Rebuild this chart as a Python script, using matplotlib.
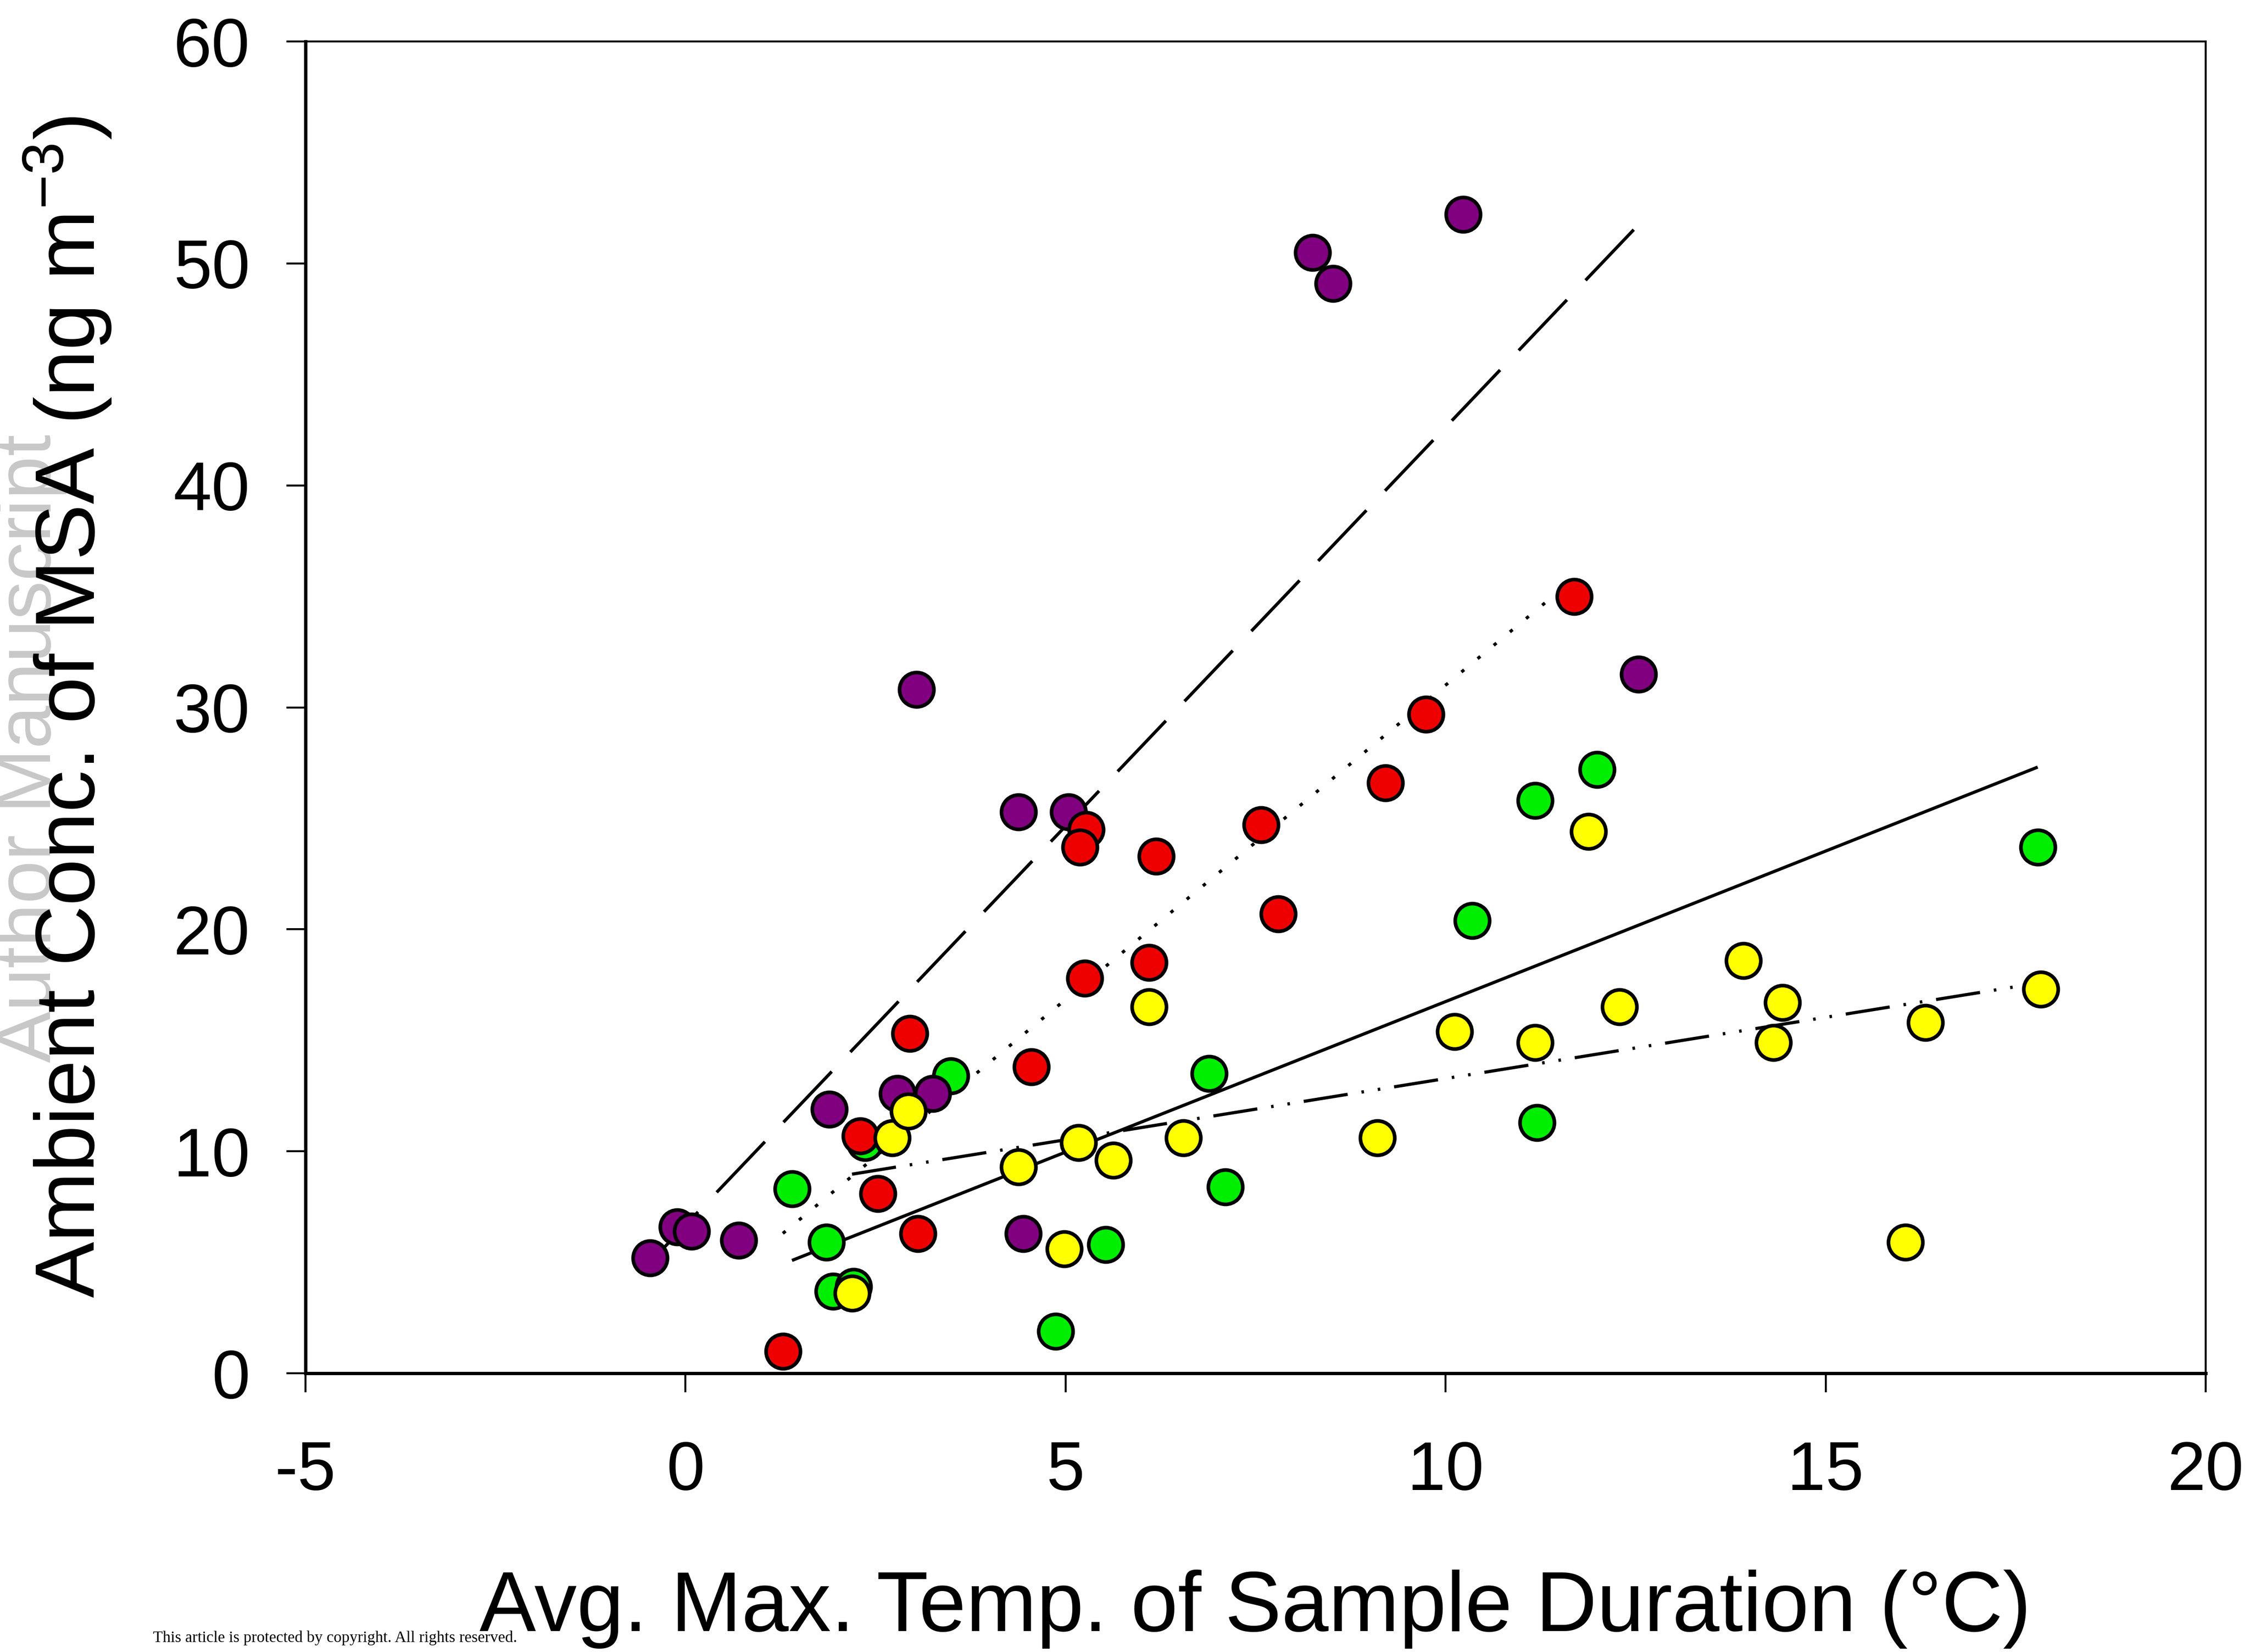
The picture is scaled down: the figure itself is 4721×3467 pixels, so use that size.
import numpy as np
import matplotlib
matplotlib.use("Agg")
from matplotlib import pyplot as plt

plt.rcParams['font.family'] = ['Liberation Sans', 'DejaVu Sans']
plt.rcParams['mathtext.fontset'] = 'custom'
plt.rcParams['mathtext.rm'] = 'Liberation Sans'
plt.rcParams['mathtext.it'] = 'Liberation Sans'
plt.rcParams['axes.unicode_minus'] = False

# data: x = avg max temp (C), y = MSA (ng m-3)
purple_x = [-0.47, -0.11, 0.08, 0.70, 1.89, 3.04, 2.79, 3.25, 4.38, 5.04, 4.44, 8.25, 8.52, 10.23, 12.54]
purple_y = [5.2, 6.6, 6.4, 6.0, 11.9, 30.8, 12.6, 12.6, 25.3, 25.3, 6.3, 50.5, 49.1, 52.2, 31.5]

red_x = [1.28, 2.30, 2.53, 2.95, 3.06, 4.55, 5.25, 5.27, 5.19, 6.10, 6.19, 7.57, 7.80, 9.21, 9.74, 11.69]
red_y = [1.0, 10.7, 8.1, 15.3, 6.3, 13.8, 17.8, 24.5, 23.7, 18.5, 23.3, 24.7, 20.7, 26.6, 29.7, 35.0]

green_x = [1.40, 1.85, 1.94, 2.21, 2.36, 3.49, 4.87, 5.53, 6.89, 7.10, 10.35, 11.18, 11.20, 11.99, 17.79]
green_y = [8.3, 5.9, 3.7, 3.9, 10.4, 13.4, 1.9, 5.8, 13.5, 8.4, 20.4, 25.8, 11.3, 27.2, 23.7]

yellow_x = [2.19, 2.72, 2.93, 4.38, 4.98, 5.17, 5.63, 6.10, 6.55, 9.10, 10.12, 11.18, 11.88, 12.29,
            13.92, 14.31, 14.43, 16.05, 16.31, 17.83]
yellow_y = [3.6, 10.6, 11.8, 9.3, 5.6, 10.4, 9.6, 16.5, 10.6, 10.6, 15.4, 14.9, 24.4, 16.5,
            18.6, 14.9, 16.7, 5.9, 15.8, 17.3]

fig = plt.figure(figsize=(47.21, 34.67), dpi=100)
ax = fig.add_axes([0.1358, 0.1687, 0.9803 - 0.1358, 0.9749 - 0.1687])

lw = 4.8
groups = [
    (green_x, green_y, '#00ee00', None),
    (purple_x, purple_y, '#800080', (22, 8.5)),
    (red_x, red_y, '#ee0000', (1.1, 5.5)),
    (yellow_x, yellow_y, '#ffff00', (14, 4.4, 0.8, 4.4, 0.8, 4.4)),
]

# regression lines over each group's x range
for gx, gy, col, dash in groups:
    gx = np.array(gx)
    slope, icpt = np.polyfit(gx, gy, 1)
    xs = np.array([gx.min(), gx.max()])
    line, = ax.plot(xs, slope * xs + icpt, color='black', lw=lw, zorder=2,
                    solid_capstyle='butt', dash_capstyle='butt')
    if dash is not None:
        line.set_dashes(dash)

for gx, gy, col, dash in groups:
    ax.scatter(gx, gy, s=2700, c=col, edgecolors='black', linewidths=5.5, zorder=3)

ax.set_xlim(-5, 20)
ax.set_ylim(0, 60)
ax.set_xticks([-5, 0, 5, 10, 15, 20])
ax.set_yticks([0, 10, 20, 30, 40, 50, 60])
ax.tick_params(axis='both', direction='out', length=29, width=3, labelsize=104,
               top=False, right=False)
ax.tick_params(axis='x', pad=72)
ax.tick_params(axis='y', pad=55)

for side in ['left', 'bottom']:
    ax.spines[side].set_linewidth(5)
for side in ['top', 'right']:
    ax.spines[side].set_linewidth(3)

fig.text(0.0135, 0.547, 'Author Manuscript', rotation=90, ha='center', va='center',
         fontsize=117, color='#c8c8c8')
fig.text(0.030, 0.572, 'Ambient Conc. of MSA (ng m$^{-3}$)', rotation=90,
         ha='center', va='center', fontsize=127)
fig.text(0.558, 0.026, 'Avg. Max. Temp. of Sample Duration (°C)', ha='center', va='center',
         fontsize=128)
fig.text(0.068, 0.004, 'This article is protected by copyright. All rights reserved.',
         ha='left', va='bottom', fontsize=24, family='Liberation Serif')

fig.savefig('out.png', dpi=100)
